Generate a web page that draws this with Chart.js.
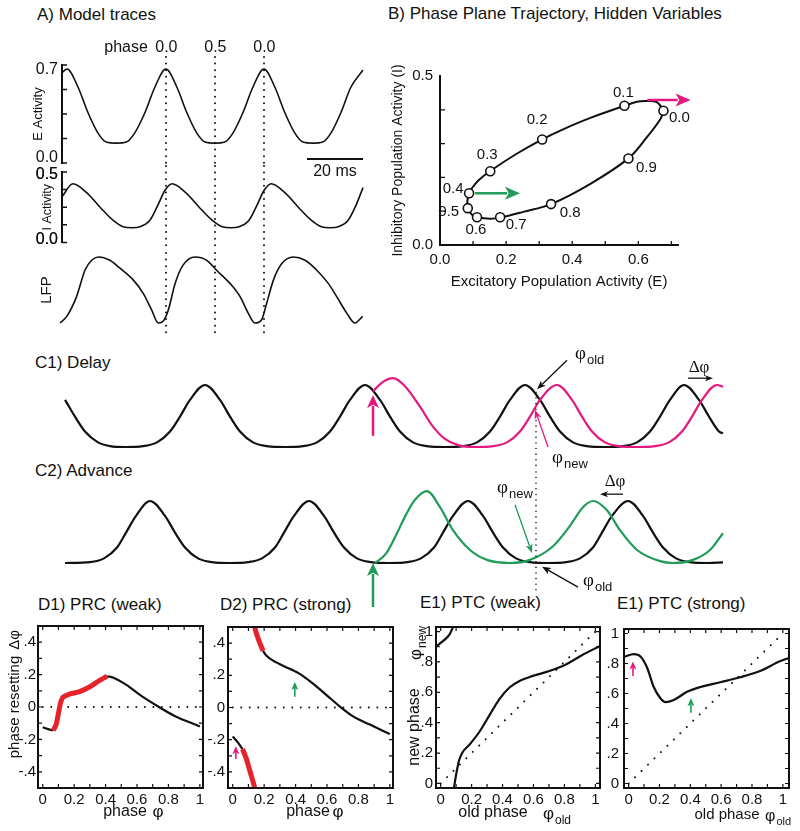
<!DOCTYPE html>
<html>
<head>
<meta charset="utf-8">
<title>Model traces, phase plane, PRC and PTC</title>
<script src="https://cdn.jsdelivr.net/npm/chart.js@4.4.1/dist/chart.umd.min.js"></script>
<style>
  body { margin: 0; background: #fff; }
  #fig { position: relative; width: 800px; height: 831px; overflow: hidden; background: #fff;
         font-family: 'Liberation Sans', Arial, sans-serif; color: #111; }
  #fig canvas { position: absolute; }
  .ttl { position: absolute; font-size: 17px; line-height: 20px; white-space: nowrap; }
</style>
</head>
<body>
<div id="fig">
  <div class="ttl" style="left:37px;top:5px">A) Model traces</div>
  <div class="ttl" style="left:388px;top:4px">B) Phase Plane Trajectory, Hidden Variables</div>
  <div class="ttl" style="left:35px;top:353px">C1) Delay</div>
  <div class="ttl" style="left:35px;top:461px">C2) Advance</div>
  <div class="ttl" style="left:38px;top:595px">D1) PRC (weak)</div>
  <div class="ttl" style="left:220px;top:595px">D2) PRC (strong)</div>
  <div class="ttl" style="left:420px;top:593px">E1) PTC (weak)</div>
  <div class="ttl" style="left:617px;top:594px">E1) PTC (strong)</div>
</div>
<script>
// ---------- A) model traces (time in ms) ----------
const tE   = [0, 1.8, 5.7, 9.3, 12.8, 15.8, 19.4, 23, 26, 29.6, 33.2, 37.1, 41, 44.6, 48.1, 51.1, 54.6, 58.1, 61.1, 64.6, 68.2, 72.1, 76, 79.6, 83.1, 86.1, 89.6, 93.1, 96.1, 99.6, 103.2, 107.5];
const eAct = [0.68, 0.708, 0.565, 0.36, 0.2, 0.127, 0.118, 0.127, 0.2, 0.36, 0.565, 0.708, 0.565, 0.36, 0.2, 0.127, 0.118, 0.127, 0.2, 0.36, 0.565, 0.708, 0.565, 0.36, 0.2, 0.127, 0.118, 0.127, 0.2, 0.36, 0.565, 0.7];
const tI   = [0, 3.9, 8.9, 13.6, 18.2, 21.8, 25, 27.9, 31.4, 33.9, 36.8, 39.3, 44.3, 49, 53.6, 57.2, 60.4, 63.3, 66.8, 69.3, 72.2, 74.7, 79.7, 84.4, 89, 92.6, 95.8, 98.7, 102.2, 104.7, 107.5];
const iAct = [0.33, 0.43, 0.36, 0.25, 0.15, 0.1, 0.092, 0.1, 0.15, 0.25, 0.38, 0.43, 0.36, 0.25, 0.15, 0.1, 0.092, 0.1, 0.15, 0.25, 0.38, 0.43, 0.36, 0.25, 0.15, 0.1, 0.092, 0.1, 0.15, 0.25, 0.4];
const tLfp = [-0.7, 1.7, 5.2, 8.2, 10.6, 13, 17.1, 20.7, 25.5, 29, 32, 34.4, 36.2, 38, 40.4, 43.3, 47.5, 51.7, 55.2, 60, 63.6, 66.5, 68.9, 71.3, 73.1, 75.5, 78.5, 82.6, 86.8, 91, 95.1, 98.1, 101.7, 104.6, 107.4];
const lfp  = [0, 0.1, 0.4, 0.8, 0.95, 1, 0.95, 0.83, 0.65, 0.45, 0.2, 0, 0.03, 0.2, 0.6, 0.88, 1, 0.95, 0.8, 0.6, 0.4, 0.15, 0, 0.05, 0.3, 0.65, 0.9, 1, 0.95, 0.8, 0.6, 0.4, 0.15, 0, 0.1];
const eTicks = [0, 0.7];
const iTicks = [0, 0.5];
const phaseTimes = [37.1, 54.6, 72.1];
const phaseLabels = ['0.0', '0.5', '0.0'];
const scaleBarMs = [87.5, 107.5];

// ---------- B) phase plane ----------
const loopE = [0.677, 0.657, 0.626, 0.596, 0.559, 0.455, 0.374, 0.308, 0.232, 0.152, 0.116, 0.096, 0.089, 0.083, 0.084, 0.096, 0.113, 0.152, 0.182, 0.252, 0.336, 0.455, 0.571, 0.626, 0.667, 0.677];
const loopI = [0.397, 0.422, 0.426, 0.424, 0.412, 0.376, 0.343, 0.312, 0.27, 0.219, 0.191, 0.167, 0.152, 0.132, 0.11, 0.09, 0.083, 0.078, 0.081, 0.098, 0.121, 0.181, 0.257, 0.319, 0.373, 0.397];
const markPhase = ['0.0', '0.1', '0.2', '0.3', '0.4', '0.5', '0.6', '0.7', '0.8', '0.9'];
const markE = [0.676, 0.558, 0.309, 0.152, 0.088, 0.084, 0.112, 0.182, 0.336, 0.57];
const markI = [0.397, 0.412, 0.312, 0.218, 0.153, 0.109, 0.082, 0.082, 0.121, 0.256];
const bTicksX = [0, 0.2, 0.4, 0.6];
const bTicksY = [0, 0.5];

// ---------- C) perturbed traces (time in a.u.) ----------
const tC1 = [0, 10, 20, 33, 45, 60, 78, 92, 105, 115, 125, 140, 155, 165, 175, 188, 202, 220, 238, 252, 265, 275, 285, 300, 315, 325, 335, 348, 362, 380, 398, 412, 425, 435, 445, 460, 475, 485, 495, 508, 522, 540, 558, 572, 585, 595, 605, 619, 634, 644, 654, 658];
const c1Old = [0.76, 0.49, 0.25, 0.075, 0.015, 0, 0.015, 0.075, 0.25, 0.49, 0.76, 1, 0.76, 0.49, 0.25, 0.075, 0.015, 0, 0.015, 0.075, 0.25, 0.49, 0.76, 1, 0.76, 0.49, 0.25, 0.075, 0.015, 0, 0.015, 0.075, 0.25, 0.49, 0.76, 1, 0.76, 0.49, 0.25, 0.075, 0.015, 0, 0.015, 0.075, 0.25, 0.49, 0.76, 1, 0.76, 0.49, 0.25, 0.22];
const tC1Delay = [308, 318, 328, 340, 355, 367, 380, 393, 410, 428, 442, 455, 465, 475, 492, 507, 517, 527, 540, 554, 572, 590, 604, 617, 627, 637, 652, 658];
const c1Delay  = [0.9, 1.05, 1.11, 0.98, 0.65, 0.35, 0.13, 0.03, 0, 0.015, 0.075, 0.25, 0.49, 0.76, 1, 0.76, 0.49, 0.25, 0.075, 0.015, 0, 0.015, 0.075, 0.25, 0.49, 0.76, 1, 0.97];
const tC2 = [0, 25, 39, 52, 61, 71, 85, 100, 110, 120, 133, 147, 165, 183, 197, 210, 219, 229, 244, 259, 269, 279, 292, 306, 324, 342, 356, 369, 378, 388, 403, 418, 428, 438, 451, 465, 483, 501, 515, 528, 537, 547, 563, 578, 588, 598, 611, 625, 643, 658];
const c2Old = [0, 0.015, 0.075, 0.25, 0.49, 0.76, 1, 0.76, 0.49, 0.25, 0.075, 0.015, 0, 0.015, 0.075, 0.25, 0.49, 0.76, 1, 0.76, 0.49, 0.25, 0.075, 0.015, 0, 0.015, 0.075, 0.25, 0.49, 0.76, 1, 0.76, 0.49, 0.25, 0.075, 0.015, 0, 0.015, 0.075, 0.25, 0.49, 0.76, 1, 0.76, 0.49, 0.25, 0.075, 0.015, 0, 0.01];
const tC2Adv = [310, 321, 332, 341, 350, 362, 375, 388, 405, 422, 445, 465, 488, 505, 518, 528, 542, 555, 572, 595, 608, 628, 645, 658];
const c2Adv  = [0, 0.15, 0.48, 0.78, 1.02, 1.16, 0.9, 0.53, 0.21, 0.05, 0, 0.05, 0.27, 0.6, 0.9, 1, 0.85, 0.53, 0.21, 0.03, 0, 0.05, 0.21, 0.48];
const stimT = 308;
const resetT = 471;

// ---------- D) phase response curves ----------
const phaseTicks = [0, 0.2, 0.4, 0.6, 0.8, 1];
const phaseTickLabels = ['0', '0.2', '0.4', '0.6', '0.8', '1'];
const prcTicks = [-0.4, -0.2, 0, 0.2, 0.4];
const prcTickLabels = ['-.4', '-.2', '0', '.2', '.4'];
const weakPreX  = [0, 0.03, 0.065];
const weakPreY  = [-0.125, -0.135, -0.145];
const weakRedX  = [0.065, 0.085, 0.1, 0.112, 0.125, 0.14, 0.17, 0.23, 0.3, 0.36, 0.41];
const weakRedY  = [-0.145, -0.11, -0.04, 0.02, 0.055, 0.067, 0.08, 0.093, 0.125, 0.163, 0.19];
const weakPostX = [0.41, 0.45, 0.53, 0.63, 0.74, 0.84, 1];
const weakPostY = [0.19, 0.18, 0.138, 0.067, 0, -0.055, -0.12];
const strongTopRedX = [0.125, 0.14, 0.165, 0.193];
const strongTopRedY = [0.6, 0.5, 0.42, 0.352];
const strongMidX = [0.193, 0.215, 0.278, 0.363, 0.427, 0.511, 0.597, 0.682, 0.766, 0.873, 1];
const strongMidY = [0.352, 0.321, 0.28, 0.24, 0.209, 0.148, 0.077, 0.006, -0.055, -0.106, -0.165];
const strongLowX = [0, 0.034, 0.062];
const strongLowY = [-0.18, -0.218, -0.258];
const strongLowRedX = [0.062, 0.087, 0.108, 0.14, 0.155];
const strongLowRedY = [-0.258, -0.319, -0.39, -0.5, -0.58];
const zeroLineX = [0, 1];
const zeroLineY = [0, 0];

// ---------- E) phase transition curves ----------
const ptcTicks = [0, 0.2, 0.4, 0.6, 0.8, 1];
const ptcTickLabels = ['0', '.2', '.4', '.6', '.8', '1'];
const ptcWeakArcX = [-0.03, 0, 0.03, 0.06, 0.08];
const ptcWeakArcY = [0.9, 0.925, 0.95, 0.985, 1.03];
const ptcWeakX = [0.086, 0.101, 0.118, 0.14, 0.187, 0.252, 0.316, 0.381, 0.445, 0.51, 0.596, 0.703, 0.81, 0.918, 1.03];
const ptcWeakY = [-0.03, 0.063, 0.148, 0.202, 0.256, 0.342, 0.45, 0.557, 0.632, 0.675, 0.708, 0.74, 0.783, 0.847, 0.905];
const ptcStrongX = [-0.03, 0.034, 0.077, 0.12, 0.163, 0.206, 0.239, 0.293, 0.379, 0.465, 0.594, 0.723, 0.852, 0.981, 1.04];
const ptcStrongY = [0.845, 0.862, 0.847, 0.772, 0.643, 0.568, 0.542, 0.557, 0.611, 0.643, 0.675, 0.708, 0.75, 0.815, 0.837];
const identityX = [0, 1];
const identityY = [0, 1];

// ---------- styles and helpers ----------
const SANS = "'Liberation Sans', Arial, sans-serif";
const SERIF = "'Liberation Serif', 'Times New Roman', serif";
const INK = '#111';
const MAGENTA = '#e5187f';
const GREEN = '#1f9c58';
const RED = '#e6222a';

Chart.defaults.font.family = SANS;
Chart.defaults.color = INK;
Chart.defaults.animation = false;
Chart.defaults.plugins.legend.display = false;
Chart.defaults.plugins.tooltip.enabled = false;

const pts = (xs, ys) => xs.map((x, i) => ({ x, y: ys[i] }));
const fixW = w => s => { s.width = w; };
const fixH = h => s => { s.height = h; };
const setTicks = vals => s => { s.ticks = vals.map(v => ({ value: v })); };

function makeCanvas(left, top, w, h) {
  const c = document.createElement('canvas');
  c.width = w; c.height = h;
  c.style.left = left + 'px'; c.style.top = top + 'px';
  c.style.width = w + 'px'; c.style.height = h + 'px';
  document.getElementById('fig').appendChild(c);
  return c;
}

function line(xs, ys, color, width, extra) {
  return Object.assign({
    data: pts(xs, ys), borderColor: color, borderWidth: width, showLine: true,
    pointRadius: 0, cubicInterpolationMode: 'monotone', clip: false, fill: false
  }, extra || {});
}

function dotted(xs, ys, gap) {
  return { data: pts(xs, ys), borderColor: INK, borderWidth: 2, showLine: true, pointRadius: 0,
           borderDash: [0.01, gap], borderCapStyle: 'round', clip: false };
}

function dotsV(ctx, x, y0, y1, lw, gap) {
  ctx.save();
  ctx.strokeStyle = INK; ctx.lineWidth = lw; ctx.lineCap = 'round';
  ctx.setLineDash([0.01, gap]);
  ctx.beginPath(); ctx.moveTo(x, y0); ctx.lineTo(x, y1); ctx.stroke();
  ctx.restore();
}

function arrow(ctx, x1, y1, x2, y2, color, lw, head, hw) {
  const a = Math.atan2(y2 - y1, x2 - x1);
  const bx = x2 - head * Math.cos(a), by = y2 - head * Math.sin(a);
  ctx.save();
  ctx.strokeStyle = color; ctx.fillStyle = color; ctx.lineWidth = lw;
  ctx.beginPath(); ctx.moveTo(x1, y1); ctx.lineTo(bx + Math.cos(a) * 2, by + Math.sin(a) * 2); ctx.stroke();
  ctx.beginPath();
  ctx.moveTo(x2, y2);
  ctx.lineTo(bx + hw / 2 * Math.sin(a), by - hw / 2 * Math.cos(a));
  ctx.lineTo(x2 - head * 0.75 * Math.cos(a), y2 - head * 0.75 * Math.sin(a));
  ctx.lineTo(bx - hw / 2 * Math.sin(a), by + hw / 2 * Math.cos(a));
  ctx.closePath(); ctx.fill();
  ctx.restore();
}

function text(ctx, s, x, y, size, align, font) {
  ctx.save();
  ctx.fillStyle = INK; ctx.font = size + 'px ' + (font || SANS);
  ctx.textAlign = align || 'center'; ctx.textBaseline = 'middle';
  ctx.fillText(s, x, y);
  ctx.restore();
}

function phi(ctx, x, y, sub, size, serif) {
  ctx.save();
  ctx.fillStyle = INK; ctx.textAlign = 'left'; ctx.textBaseline = 'alphabetic';
  ctx.font = size + 'px ' + (serif ? SERIF : SANS);
  ctx.fillText('\u03c6', x, y);
  const w = ctx.measureText('\u03c6').width;
  ctx.font = Math.round(size * 0.68) + 'px ' + SANS;
  ctx.fillText(sub, x + w + 1, y + size * 0.28);
  ctx.restore();
}

function rotPhi(ctx, cx, cy, sub, size) {
  ctx.save();
  ctx.font = size + 'px ' + SANS;
  const w1 = ctx.measureText('\u03c6').width;
  ctx.font = Math.round(size * 0.68) + 'px ' + SANS;
  const w2 = ctx.measureText(sub).width;
  ctx.translate(cx, cy); ctx.rotate(-Math.PI / 2);
  phi(ctx, -(w1 + w2 + 1) / 2, size * 0.35, sub, size, false);
  ctx.restore();
}

function rotText(ctx, s, cx, cy, size) {
  ctx.save();
  ctx.translate(cx, cy); ctx.rotate(-Math.PI / 2);
  text(ctx, s, 0, 0, size);
  ctx.restore();
}

function deltaPhi(ctx, cx, y, size) {
  ctx.save();
  ctx.fillStyle = INK; ctx.font = size + 'px ' + SERIF;
  ctx.textAlign = 'center'; ctx.textBaseline = 'alphabetic';
  ctx.fillText('\u0394\u03c6', cx, y);
  ctx.restore();
}

const tenths = (lo, hi) => { const out = []; for (let k = Math.round(lo * 10); k <= Math.round(hi * 10); k++) out.push(k / 10); return out; };

// ---------- A) traces ----------
const phaseLines = (y0, y1) => ({
  id: 'phaseLines',
  afterDatasetsDraw(chart) {
    const xs = chart.scales.x;
    phaseTimes.forEach(t => dotsV(chart.ctx, Math.round(xs.getPixelForValue(t)), y0, y1, 2, 6.6));
  }
});

// inward axis ticks; optionally repaint the scale's own tick labels on top
const axisMarks = (vals, relabel) => ({
  id: 'axisMarks',
  afterDraw(chart) {
    const { ctx, chartArea: a, scales: { y } } = chart;
    ctx.save(); ctx.strokeStyle = INK; ctx.lineWidth = 1.5; ctx.beginPath();
    vals.forEach(v => { const py = y.getPixelForValue(v); ctx.moveTo(a.left, py); ctx.lineTo(a.left + 5, py); });
    ctx.stroke(); ctx.restore();
    if (relabel) y.ticks.forEach(t => text(ctx, t.label, a.left - 4, y.getPixelForValue(t.value), 16, 'right'));
  }
});

function traceChart(canvas, xs, ys, o) {
  const hasAxis = o.ticks.length > 0;
  return new Chart(canvas, {
    type: 'scatter',
    data: { datasets: [line(xs, ys, INK, 1.6)] },
    options: {
      responsive: false,
      layout: { padding: o.pad },
      scales: {
        x: { type: 'linear', min: 0, max: 107.5, display: false },
        y: { min: o.min, max: o.max, afterFit: fixW(o.w), afterBuildTicks: setTicks(o.ticks),
             grid: { display: false, drawTicks: false },
             border: { display: hasAxis, color: INK, width: 2 },
             ticks: { display: hasAxis, padding: 4, autoSkip: false, font: { size: 16 }, callback: v => v.toFixed(1) },
             title: { display: true, text: o.title, font: { size: o.titleSize }, padding: { top: o.titlePad, bottom: 0 } } }
      }
    },
    plugins: o.plugins
  });
}

const aHeader = {
  id: 'aHeader',
  afterDraw(chart) {
    const { ctx, scales: { x } } = chart;
    phaseTimes.forEach((t, i) => text(ctx, phaseLabels[i], x.getPixelForValue(t) + 0.5, 8, 16));
    text(ctx, 'phase', x.getPixelForValue(phaseTimes[0]) - 18, 8, 16, 'right');
    const y = 119;
    ctx.save(); ctx.strokeStyle = INK; ctx.lineWidth = 2.2;
    ctx.beginPath(); ctx.moveTo(x.getPixelForValue(scaleBarMs[0]), y); ctx.lineTo(x.getPixelForValue(scaleBarMs[1]), y); ctx.stroke();
    ctx.restore();
    text(ctx, '20 ms', x.getPixelForValue((scaleBarMs[0] + scaleBarMs[1]) / 2), 132, 16);
  }
};

traceChart(makeCanvas(0, 40, 400, 140), tE, eAct, {
  pad: { left: 31, right: 37, top: 25, bottom: 17 }, w: 31, min: -0.04, max: 0.74, ticks: eTicks,
  title: 'E Activity', titleSize: 13, titlePad: 0,
  plugins: [phaseLines(17, 126), axisMarks([-0.04, 0.155, 0.35, 0.545, 0.74], false), aHeader]
});
traceChart(makeCanvas(0, 156, 400, 100), tI, iAct, {
  pad: { left: 32, right: 37, top: 16, bottom: 13 }, w: 30, min: -0.02, max: 0.52, ticks: iTicks,
  title: 'I Activity', titleSize: 12.5, titlePad: 8,
  plugins: [phaseLines(10, 94), axisMarks([-0.02, 0.115, 0.25, 0.385, 0.52], true)]
});
traceChart(makeCanvas(0, 250, 400, 90), tLfp, lfp, {
  pad: { left: 32, right: 37, top: 7, bottom: 17 }, w: 30, min: 0, max: 1, ticks: [],
  title: 'LFP', titleSize: 15, titlePad: 6,
  plugins: [phaseLines(3, 85)]
});

// ---------- B) phase plane ----------
const markLabelOffset = [[16, 7], [-1, -13], [-5, -20], [-3, -16], [-16, -4], [-19, 4], [-1, 13], [16, 8], [19, 9], [18, 9]];
const bNotes = {
  id: 'bNotes',
  afterDatasetsDraw(chart) {
    const { ctx, chartArea: a, scales: { x, y } } = chart;
    const X = v => x.getPixelForValue(v), Y = v => y.getPixelForValue(v);
    ctx.save(); ctx.strokeStyle = INK; ctx.lineWidth = 1.3; ctx.beginPath();
    [0.1, 0.2, 0.3, 0.4].forEach(v => { ctx.moveTo(a.left, Y(v)); ctx.lineTo(a.left + 5, Y(v)); });
    [0.1, 0.2, 0.3, 0.4, 0.5, 0.6, 0.7].forEach(v => { ctx.moveTo(X(v), a.bottom); ctx.lineTo(X(v), a.bottom - 4); });
    ctx.stroke(); ctx.restore();
    markPhase.forEach((s, i) => text(ctx, s, X(markE[i]) + markLabelOffset[i][0], Y(markI[i]) + markLabelOffset[i][1], 15));
    arrow(ctx, X(0.627), Y(0.429), X(0.758), Y(0.429), MAGENTA, 2.5, 15, 13);
    arrow(ctx, X(0.106), Y(0.153), X(0.242), Y(0.153), GREEN, 2.5, 15, 13);
  }
};

new Chart(makeCanvas(380, 60, 340, 240), {
  type: 'scatter',
  data: { datasets: [
    { data: pts(markE, markI), pointRadius: 4.5, pointBorderWidth: 1.6, pointBorderColor: INK,
      pointBackgroundColor: '#fff', showLine: false, clip: false },
    line(loopE, loopI, INK, 2, { cubicInterpolationMode: 'default', tension: 0.35 })
  ] },
  options: {
    responsive: false,
    layout: { padding: { left: 10, right: 42, top: 15, bottom: 9 } },
    scales: {
      x: { type: 'linear', min: 0, max: 0.72, afterFit: fixH(46), afterBuildTicks: setTicks(bTicksX),
           grid: { display: false, drawTicks: false }, border: { display: true, color: INK, width: 2 },
           ticks: { padding: 6, autoSkip: false, maxRotation: 0, font: { size: 15 }, callback: v => v.toFixed(1) },
           title: { display: true, text: 'Excitatory Population Activity (E)', font: { size: 15 }, padding: { top: 0, bottom: 0 } } },
      y: { min: 0, max: 0.5, afterFit: fixW(50), afterBuildTicks: setTicks(bTicksY),
           grid: { display: false, drawTicks: false }, border: { display: true, color: INK, width: 2 },
           ticks: { padding: 7, autoSkip: false, font: { size: 15 }, callback: v => v.toFixed(1) },
           title: { display: true, text: 'Inhibitory Population Activity (I)', font: { size: 14 }, padding: { top: 0, bottom: 0 } } }
    }
  },
  plugins: [bNotes]
});

// ---------- C) delay / advance ----------
const c1Notes = {
  id: 'c1Notes',
  afterDatasetsDraw(chart) {
    const { ctx, scales: { x, y } } = chart;
    const X = v => x.getPixelForValue(v), Y = v => y.getPixelForValue(v);
    dotsV(ctx, Math.round(X(resetT)), Y(0.88), chart.height, 1.6, 5.6);
    arrow(ctx, X(stimT), Y(0.18), X(stimT), Y(0.84), MAGENTA, 2.5, 13, 12);
    arrow(ctx, X(502), Y(1.4), X(472), Y(0.93), INK, 1.3, 9, 7);
    phi(ctx, X(510), Y(1.42), 'old', 19, true);
    arrow(ctx, X(483), Y(0), X(470), Y(0.6), MAGENTA, 1.3, 9, 7);
    phi(ctx, X(487), Y(-0.26), 'new', 19, true);
    deltaPhi(ctx, X(634), Y(1.21), 17);
    arrow(ctx, X(623), Y(1.11), X(648), Y(1.11), INK, 1.3, 8, 6);
  }
};
const c2Notes = {
  id: 'c2Notes',
  afterDatasetsDraw(chart) {
    const { ctx, scales: { x, y } } = chart;
    const X = v => x.getPixelForValue(v), Y = v => y.getPixelForValue(v);
    dotsV(ctx, Math.round(X(resetT)), 2, Y(-0.44), 1.6, 5.6);
    arrow(ctx, X(stimT), Y(-0.71), X(stimT), Y(0), GREEN, 2.5, 13, 12);
    phi(ctx, X(432), Y(1.13), 'new', 19, true);
    arrow(ctx, X(450), Y(0.94), X(467), Y(0.16), GREEN, 1.3, 9, 7);
    deltaPhi(ctx, X(550), Y(1.24), 17);
    arrow(ctx, X(558), Y(1.11), X(535), Y(1.11), INK, 1.3, 8, 6);
    phi(ctx, X(518), Y(-0.37), 'old', 19, true);
    arrow(ctx, X(513), Y(-0.39), X(477), Y(-0.06), INK, 1.3, 9, 7);
  }
};

function traceC(canvas, oldT, oldV, newT, newV, color, pad, notes) {
  return new Chart(canvas, {
    type: 'scatter',
    data: { datasets: [line(newT, newV, color, 2.2), line(oldT, oldV, INK, 2.2)] },
    options: {
      responsive: false,
      layout: { padding: pad },
      scales: { x: { type: 'linear', min: 0, max: 658, display: false }, y: { min: 0, max: 1, display: false } }
    },
    plugins: [notes]
  });
}
traceC(makeCanvas(60, 340, 670, 130), tC1, c1Old, tC1Delay, c1Delay, MAGENTA, { left: 5, right: 7, top: 45, bottom: 23 }, c1Notes);
traceC(makeCanvas(60, 470, 670, 145), tC2, c2Old, tC2Adv, c2Adv, GREEN, { left: 5, right: 7, top: 31, bottom: 52 }, c2Notes);

// ---------- D / E) boxed plots ----------
const frame = yVals => ({
  id: 'frame',
  afterDatasetsDraw(chart) {
    const { ctx, chartArea: a, scales: { x, y } } = chart;
    ctx.save(); ctx.strokeStyle = INK; ctx.lineWidth = 1.2; ctx.beginPath();
    tenths(0, 1).forEach(v => { const px = x.getPixelForValue(v); ctx.moveTo(px, a.top); ctx.lineTo(px, a.top + 4); ctx.moveTo(px, a.bottom); ctx.lineTo(px, a.bottom - 4); });
    yVals.forEach(v => { const py = y.getPixelForValue(v); ctx.moveTo(a.left, py); ctx.lineTo(a.left + 4, py); ctx.moveTo(a.right, py); ctx.lineTo(a.right - 4, py); });
    ctx.stroke();
    ctx.lineWidth = 2;
    ctx.strokeRect(a.left, a.top, a.right - a.left, a.bottom - a.top);
    ctx.restore();
  }
});

function boxChart(canvas, datasets, o) {
  return new Chart(canvas, {
    type: 'scatter',
    data: { datasets },
    options: {
      responsive: false,
      layout: { padding: { left: 0, right: o.padRight, top: 9, bottom: 3 } },
      scales: {
        x: { type: 'linear', min: o.xMin, max: o.xMax, afterFit: fixH(40), afterBuildTicks: setTicks(phaseTicks),
             grid: { display: false, drawTicks: false }, border: { display: false },
             ticks: { padding: 3, autoSkip: false, maxRotation: 0, font: { size: 15 }, callback: (v, i) => phaseTickLabels[i] } },
        y: { min: o.yMin, max: o.yMax, afterFit: fixW(o.yWidth), afterBuildTicks: setTicks(o.yTicks),
             grid: { display: false, drawTicks: false }, border: { display: false },
             ticks: { padding: o.yPad, autoSkip: false, font: { size: 15 }, callback: (v, i) => o.yLabels[i] },
             title: o.yTitle ? { display: true, text: o.yTitle, font: { size: 15 }, padding: { top: 6, bottom: 0 } } : { display: false } }
      }
    },
    plugins: [frame(o.yMarks), o.notes]
  });
}

const clipBox = { clip: 1 };
const dNotes = (px, extra) => ({
  id: 'dNotes',
  afterDraw(chart) {
    const ctx = chart.ctx;
    text(ctx, 'phase', px[0], 197, 16);
    text(ctx, '\u03c6', px[1], 197, 17);
    if (extra) extra(chart);
  }
});

boxChart(makeCanvas(0, 615, 212, 216), [
  line(weakRedX, weakRedY, RED, 5, clipBox),
  line(weakPreX, weakPreY, INK, 2.2, clipBox),
  line(weakPostX, weakPostY, INK, 2.2, clipBox),
  dotted(zeroLineX, zeroLineY, 8.5)
], { padRight: 9, xMin: -0.03, xMax: 1.02, yMin: -0.5, yMax: 0.5, yWidth: 38, yPad: 2,
     yTicks: prcTicks, yLabels: prcTickLabels, yTitle: 'phase resetting', yMarks: tenths(-0.4, 0.4),
     notes: dNotes([125, 158], chart => rotText(chart.ctx, '\u0394\u03c6', 15, 25, 15)) });

boxChart(makeCanvas(200, 615, 205, 216), [
  line(strongTopRedX, strongTopRedY, RED, 5, clipBox),
  line(strongLowRedX, strongLowRedY, RED, 5, clipBox),
  line(strongMidX, strongMidY, INK, 2.2, clipBox),
  line(strongLowX, strongLowY, INK, 2.2, clipBox),
  dotted(zeroLineX, zeroLineY, 8.5)
], { padRight: 12, xMin: -0.03, xMax: 1.02, yMin: -0.5, yMax: 0.5, yWidth: 28, yPad: 3,
     yTicks: prcTicks, yLabels: prcTickLabels, yMarks: tenths(-0.4, 0.4),
     notes: dNotes([108, 138], chart => {
       const { ctx, scales: { x, y } } = chart;
       arrow(ctx, x.getPixelForValue(0.02), y.getPixelForValue(-0.32), x.getPixelForValue(0.02), y.getPixelForValue(-0.24), MAGENTA, 1.6, 8, 7);
       arrow(ctx, x.getPixelForValue(0.395), y.getPixelForValue(0.067), x.getPixelForValue(0.395), y.getPixelForValue(0.159), GREEN, 1.6, 8, 7);
     }) });

const eWeakNotes = {
  id: 'eWeakNotes',
  afterDraw(chart) {
    const ctx = chart.ctx;
    text(ctx, 'old phase', 98, 198, 16);
    phi(ctx, 148, 204, 'old', 17, false);
    rotText(ctx, 'new phase', 20, 112, 16);
    rotPhi(ctx, 20, 28, 'new', 17);
  }
};
boxChart(makeCanvas(395, 615, 215, 216), [
  line(ptcWeakArcX, ptcWeakArcY, INK, 2.2, clipBox),
  line(ptcWeakX, ptcWeakY, INK, 2.2, clipBox),
  dotted(identityX, identityY, 9)
], { padRight: 10, xMin: -0.03, xMax: 1.03, yMin: -0.03, yMax: 1.03, yWidth: 41, yPad: 3,
     yTicks: ptcTicks, yLabels: ptcTickLabels, yMarks: tenths(0, 1), notes: eWeakNotes });

const eStrongNotes = {
  id: 'eStrongNotes',
  afterDraw(chart) {
    const { ctx, scales: { x, y } } = chart;
    text(ctx, 'old phase', 137, 200, 15);
    phi(ctx, 175, 206, 'old', 16, false);
    arrow(ctx, x.getPixelForValue(0.028), y.getPixelForValue(0.716), x.getPixelForValue(0.028), y.getPixelForValue(0.813), MAGENTA, 1.6, 8, 7);
    arrow(ctx, x.getPixelForValue(0.404), y.getPixelForValue(0.471), x.getPixelForValue(0.404), y.getPixelForValue(0.568), GREEN, 1.6, 8, 7);
  }
};
boxChart(makeCanvas(590, 615, 210, 216), [
  line(ptcStrongX, ptcStrongY, INK, 2.2, clipBox),
  dotted(identityX, identityY, 9)
], { padRight: 11, xMin: -0.03, xMax: 1.04, yMin: -0.03, yMax: 1.03, yWidth: 34, yPad: 5,
     yTicks: ptcTicks, yLabels: ptcTickLabels, yMarks: tenths(0, 1), notes: eStrongNotes });
</script>
</body>
</html>
